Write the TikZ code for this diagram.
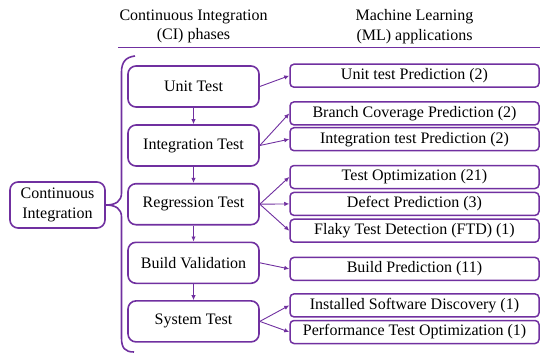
\documentclass[tikz,border=0pt]{standalone}
\usepackage{fontspec}
\setmainfont{Liberation Serif}
\usetikzlibrary{arrows.meta}
\definecolor{cipurple}{RGB}{112,48,160}

\begin{document}
\begin{tikzpicture}[x=1pt,y=-1pt,
		font=\rmfamily\fontsize{16}{19.5}\selectfont,
		phase/.style={draw=cipurple,line width=1.6pt,rounded corners=8pt,minimum width=131pt,minimum height=41pt,inner sep=0pt},
		app/.style={draw=cipurple,line width=1.5pt,rounded corners=4pt,minimum width=249pt,minimum height=23pt,inner sep=0pt},
		link/.style={cipurple,line width=0.9pt,-{Latex[length=5pt,width=4.5pt]}}]
			\useasboundingbox (0,0) rectangle (540,353);
			\node[align=center] (cihead) at (193.5,26.5) {Continuous Integration\\(CI) phases};
			\node[align=center] (mlhead) at (414.5,26.5) {Machine Learning\\(ML) applications};
			\draw[cipurple,line width=1.2pt] (118,47.5) -- (540,47.5);

			\node[phase,minimum width=95pt,minimum height=46pt,align=center] (ci) at (57.5,205) {Continuous\\Integration};
			\draw[cipurple,line width=1.6pt] (135,56) .. controls (126,57) and (121.5,62) .. (121.5,72) -- (121.5,193)
				.. controls (121.5,201) and (116,205) .. (ci.east)
				.. controls (116,205) and (121.5,209) .. (121.5,217) -- (121.5,338)
				.. controls (121.5,348) and (125,352) .. (134,352);

			\node[phase] (unit) at (193.5,86.5) {Unit Test};
			\node[phase] (integ) at (193.5,145.5) {Integration Test};
			\node[phase] (regr) at (193.5,204.2) {Regression Test};
			\node[phase] (build) at (193.5,262.8) {Build Validation};
			\node[phase] (sys) at (193.5,321.4) {System Test};

			\node[app] (unitpred) at (414.5,75.7) {Unit test Prediction (2)};
			\node[app] (branch) at (414.5,113.4) {Branch Coverage Prediction (2)};
			\node[app] (integpred) at (414.5,139.2) {Integration test Prediction (2)};
			\node[app] (testopt) at (414.5,177) {Test Optimization (21)};
			\node[app] (defect) at (414.5,203.9) {Defect Prediction (3)};
			\node[app] (flaky) at (414.5,230.7) {Flaky Test Detection (FTD) (1)};
			\node[app] (buildpred) at (414.5,268.9) {Build Prediction (11)};
			\node[app] (install) at (414.5,305.4) {Installed Software Discovery (1)};
			\node[app] (perf) at (414.5,332) {Performance Test Optimization (1)};

			\draw[link] (unit) -- (integ);
			\draw[link] (integ) -- (regr);
			\draw[link] (regr) -- (build);
			\draw[link] (build) -- (sys);

			\draw[link] (unit.east) -- (unitpred.west);
			\draw[link] (integ.east) -- (branch.west);
			\draw[link] (integ.east) -- (integpred.west);
			\draw[link] (regr.east) -- (testopt.west);
			\draw[link] (regr.east) -- (defect.west);
			\draw[link] (regr.east) -- (flaky.west);
			\draw[link] (build.east) -- (buildpred.west);
			\draw[link] (sys.east) -- (install.west);
			\draw[link] (sys.east) -- (perf.west);
		\end{tikzpicture}
\end{document}
